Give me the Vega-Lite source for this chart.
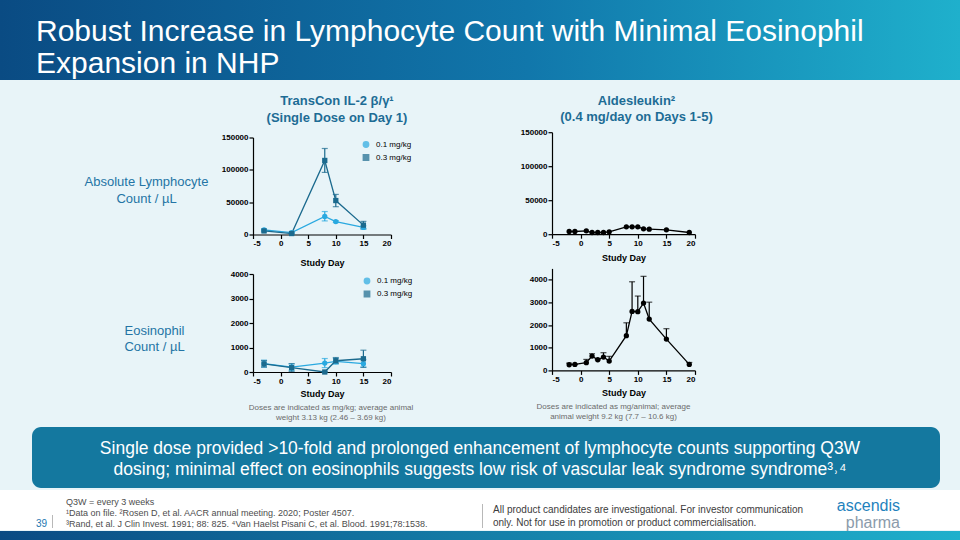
{
  "$schema": "https://vega.github.io/schema/vega-lite/v6.json",
  "background": "#e8f4f8",
  "padding": 0,
  "spacing": 0,
  "config": {
    "view": {"stroke": null},
    "font": "Liberation Sans",
    "axis": {"grid": false, "domainColor": "#000000", "domainWidth": 1.2, "tickColor": "#000000", "tickWidth": 1.2, "tickSize": 4, "labelFont": "Liberation Sans", "labelFontSize": 8, "labelFontWeight": "bold", "labelColor": "#000000", "labelPadding": 1, "titleFont": "Liberation Sans", "titleFontSize": 9, "titleFontWeight": "bold", "titleColor": "#000000"},
    "axisX": {"labelExpr": "replace(datum.label, '−', '-')"},
    "legend": {"labelFont": "Liberation Sans", "labelFontSize": 8, "labelColor": "#000000", "padding": 0, "rowPadding": 1, "labelOffset": 6, "symbolSize": 28},
    "title": {"font": "Liberation Sans"}
  },
  "vconcat": [
    {
      "width": 960, "height": 80,
      "data": {"values": []}, "mark": "point",
      "view": {"fill": {"gradient": "linear", "x1": 0, "y1": 0, "x2": 1, "y2": 0, "stops": [{"offset": 0, "color": "#0a4b83"}, {"offset": 0.55, "color": "#1177ab"}, {"offset": 1, "color": "#1fb0cc"}]}},
      "title": {"text": ["Robust Increase in Lymphocyte Count with Minimal Eosinophil", "Expansion in NHP"], "orient": "bottom", "anchor": "start", "frame": "group", "offset": -63.5, "dx": 36, "fontSize": 30, "fontWeight": "normal", "color": "#ffffff", "lineHeight": 32}
    },
    {
      "spacing": 0,
      "hconcat": [
        {"width": 84, "height": 1, "data": {"values": []}, "mark": "point"},
        {
          "spacing": 2.5,
          "resolve": {"scale": {"color": "independent", "shape": "independent"}, "legend": {"color": "independent", "shape": "independent"}},
          "vconcat": [
            {"width": 1, "height": 11.5, "data": {"values": []}, "mark": "point"},
            {
              "width": 138, "height": 97,
              "title": {"text": ["TransCon IL-2 β/γ¹", "(Single Dose on Day 1)"], "fontSize": 13, "fontWeight": "bold", "color": "#1d6c95", "lineHeight": 16.5, "offset": 9, "dx": 15, "anchor": "middle", "frame": "group"},
              "data": {"values": [
                {"day": -3, "dose": "0.1 mg/kg", "mean": 7000, "lo": 5500, "hi": 8500},
                {"day": 2, "dose": "0.1 mg/kg", "mean": 3000, "lo": 2000, "hi": 4000},
                {"day": 8, "dose": "0.1 mg/kg", "mean": 28000, "lo": 21000, "hi": 35500},
                {"day": 10, "dose": "0.1 mg/kg", "mean": 20000, "lo": 18500, "hi": 21500},
                {"day": 15, "dose": "0.1 mg/kg", "mean": 11000, "lo": 8500, "hi": 13500},
                {"day": -3, "dose": "0.3 mg/kg", "mean": 5500, "lo": 4000, "hi": 7000},
                {"day": 2, "dose": "0.3 mg/kg", "mean": 1500, "lo": 500, "hi": 2500},
                {"day": 8, "dose": "0.3 mg/kg", "mean": 114500, "lo": 96000, "hi": 133000},
                {"day": 10, "dose": "0.3 mg/kg", "mean": 52500, "lo": 43000, "hi": 62000},
                {"day": 15, "dose": "0.3 mg/kg", "mean": 14500, "lo": 8800, "hi": 20300}
              ]},
              "encoding": {
                "x": {"field": "day", "type": "quantitative", "scale": {"domain": [-5, 20], "nice": false}, "axis": {"values": [-5, 0, 5, 10, 15, 20], "title": "Study Day", "titlePadding": 10.5}},
                "color": {"field": "dose", "type": "nominal", "scale": {"domain": ["0.1 mg/kg", "0.3 mg/kg"], "range": ["#2aa9e0", "#1b6a8e"]}, "legend": {"orient": "none", "legendX": 109, "legendY": 3, "title": null}}
              },
              "layer": [
                {"mark": {"type": "rule", "strokeWidth": 1.2}, "encoding": {
                  "y": {"field": "lo", "type": "quantitative", "scale": {"domain": [0, 150000], "nice": false}, "axis": {"values": [0, 50000, 100000, 150000], "format": "d", "title": ["Absolute Lymphocyte", "Count / µL"], "titleAngle": 0, "titleAlign": "center", "titleBaseline": "middle", "titleX": -107, "titleY": 44, "titleFontSize": 13, "titleFontWeight": "normal", "titleColor": "#2474a5", "titleLineHeight": 16.5}},
                  "y2": {"field": "hi"}}},
                {"mark": {"type": "tick", "orient": "horizontal", "size": 6, "thickness": 1.2}, "encoding": {
                  "y": {"field": "lo", "type": "quantitative", "scale": {"domain": [0, 150000], "nice": false}, "axis": {"values": [0, 50000, 100000, 150000], "format": "d", "title": ["Absolute Lymphocyte", "Count / µL"], "titleAngle": 0, "titleAlign": "center", "titleBaseline": "middle", "titleX": -107, "titleY": 44, "titleFontSize": 13, "titleFontWeight": "normal", "titleColor": "#2474a5", "titleLineHeight": 16.5}}}},
                {"mark": {"type": "tick", "orient": "horizontal", "size": 6, "thickness": 1.2}, "encoding": {
                  "y": {"field": "hi", "type": "quantitative", "scale": {"domain": [0, 150000], "nice": false}, "axis": {"values": [0, 50000, 100000, 150000], "format": "d", "title": ["Absolute Lymphocyte", "Count / µL"], "titleAngle": 0, "titleAlign": "center", "titleBaseline": "middle", "titleX": -107, "titleY": 44, "titleFontSize": 13, "titleFontWeight": "normal", "titleColor": "#2474a5", "titleLineHeight": 16.5}}}},
                {"mark": {"type": "line", "strokeWidth": 1.3}, "encoding": {
                  "y": {"field": "mean", "type": "quantitative", "scale": {"domain": [0, 150000], "nice": false}, "axis": {"values": [0, 50000, 100000, 150000], "format": "d", "title": ["Absolute Lymphocyte", "Count / µL"], "titleAngle": 0, "titleAlign": "center", "titleBaseline": "middle", "titleX": -107, "titleY": 44, "titleFontSize": 13, "titleFontWeight": "normal", "titleColor": "#2474a5", "titleLineHeight": 16.5}}}},
                {"mark": {"type": "point", "filled": true, "size": 28, "opacity": 1}, "encoding": {
                  "y": {"field": "mean", "type": "quantitative", "scale": {"domain": [0, 150000], "nice": false}, "axis": {"values": [0, 50000, 100000, 150000], "format": "d", "title": ["Absolute Lymphocyte", "Count / µL"], "titleAngle": 0, "titleAlign": "center", "titleBaseline": "middle", "titleX": -107, "titleY": 44, "titleFontSize": 13, "titleFontWeight": "normal", "titleColor": "#2474a5", "titleLineHeight": 16.5}},
                  "shape": {"field": "dose", "type": "nominal", "scale": {"domain": ["0.1 mg/kg", "0.3 mg/kg"], "range": ["circle", "square"]}, "legend": {"orient": "none", "legendX": 109, "legendY": 3, "title": null}}}}
              ]
            },
            {
              "width": 138, "height": 98,
              "title": {"text": ["Doses are indicated as mg/kg; average animal", "weight 3.13 kg (2.46 – 3.69 kg)"], "orient": "bottom", "offset": 5, "dx": 9, "fontSize": 8, "fontWeight": "normal", "color": "#6b6b6b", "lineHeight": 10.5, "anchor": "middle", "frame": "group"},
              "data": {"values": [
                {"day": -3, "dose": "0.1 mg/kg", "mean": 340, "lo": 200, "hi": 480},
                {"day": 2, "dose": "0.1 mg/kg", "mean": 200, "lo": 70, "hi": 330},
                {"day": 8, "dose": "0.1 mg/kg", "mean": 365, "lo": 180, "hi": 550},
                {"day": 10, "dose": "0.1 mg/kg", "mean": 430, "lo": 320, "hi": 560},
                {"day": 15, "dose": "0.1 mg/kg", "mean": 340, "lo": 200, "hi": 510},
                {"day": -3, "dose": "0.3 mg/kg", "mean": 330, "lo": 200, "hi": 470},
                {"day": 2, "dose": "0.3 mg/kg", "mean": 175, "lo": 20, "hi": 340},
                {"day": 8, "dose": "0.3 mg/kg", "mean": 0, "lo": 0, "hi": 0},
                {"day": 10, "dose": "0.3 mg/kg", "mean": 460, "lo": 350, "hi": 590},
                {"day": 15, "dose": "0.3 mg/kg", "mean": 540, "lo": 190, "hi": 890}
              ]},
              "encoding": {
                "x": {"field": "day", "type": "quantitative", "scale": {"domain": [-5, 20], "nice": false}, "axis": {"values": [-5, 0, 5, 10, 15, 20], "title": "Study Day", "titlePadding": 4.8}},
                "color": {"field": "dose", "type": "nominal", "scale": {"domain": ["0.1 mg/kg", "0.3 mg/kg"], "range": ["#2aa9e0", "#1b6a8e"]}, "legend": {"orient": "none", "legendX": 110, "legendY": 3, "title": null}}
              },
              "layer": [
                {"mark": {"type": "rule", "strokeWidth": 1.2}, "encoding": {
                  "y": {"field": "lo", "type": "quantitative", "scale": {"domain": [0, 4000], "nice": false}, "axis": {"values": [0, 1000, 2000, 3000, 4000], "format": "d", "title": ["Eosinophil", "Count / µL"], "titleAngle": 0, "titleAlign": "center", "titleBaseline": "middle", "titleX": -99, "titleY": 56, "titleFontSize": 13, "titleFontWeight": "normal", "titleColor": "#2474a5", "titleLineHeight": 16.5}},
                  "y2": {"field": "hi"}}},
                {"mark": {"type": "tick", "orient": "horizontal", "size": 6, "thickness": 1.2}, "encoding": {
                  "y": {"field": "lo", "type": "quantitative", "scale": {"domain": [0, 4000], "nice": false}, "axis": {"values": [0, 1000, 2000, 3000, 4000], "format": "d", "title": ["Eosinophil", "Count / µL"], "titleAngle": 0, "titleAlign": "center", "titleBaseline": "middle", "titleX": -99, "titleY": 56, "titleFontSize": 13, "titleFontWeight": "normal", "titleColor": "#2474a5", "titleLineHeight": 16.5}}}},
                {"mark": {"type": "tick", "orient": "horizontal", "size": 6, "thickness": 1.2}, "encoding": {
                  "y": {"field": "hi", "type": "quantitative", "scale": {"domain": [0, 4000], "nice": false}, "axis": {"values": [0, 1000, 2000, 3000, 4000], "format": "d", "title": ["Eosinophil", "Count / µL"], "titleAngle": 0, "titleAlign": "center", "titleBaseline": "middle", "titleX": -99, "titleY": 56, "titleFontSize": 13, "titleFontWeight": "normal", "titleColor": "#2474a5", "titleLineHeight": 16.5}}}},
                {"mark": {"type": "line", "strokeWidth": 1.3}, "encoding": {
                  "y": {"field": "mean", "type": "quantitative", "scale": {"domain": [0, 4000], "nice": false}, "axis": {"values": [0, 1000, 2000, 3000, 4000], "format": "d", "title": ["Eosinophil", "Count / µL"], "titleAngle": 0, "titleAlign": "center", "titleBaseline": "middle", "titleX": -99, "titleY": 56, "titleFontSize": 13, "titleFontWeight": "normal", "titleColor": "#2474a5", "titleLineHeight": 16.5}}}},
                {"mark": {"type": "point", "filled": true, "size": 28, "opacity": 1}, "encoding": {
                  "y": {"field": "mean", "type": "quantitative", "scale": {"domain": [0, 4000], "nice": false}, "axis": {"values": [0, 1000, 2000, 3000, 4000], "format": "d", "title": ["Eosinophil", "Count / µL"], "titleAngle": 0, "titleAlign": "center", "titleBaseline": "middle", "titleX": -99, "titleY": 56, "titleFontSize": 13, "titleFontWeight": "normal", "titleColor": "#2474a5", "titleLineHeight": 16.5}},
                  "shape": {"field": "dose", "type": "nominal", "scale": {"domain": ["0.1 mg/kg", "0.3 mg/kg"], "range": ["circle", "square"]}, "legend": {"orient": "none", "legendX": 110, "legendY": 3, "title": null}}}}
              ]
            }
          ]
        },
        {"width": 106, "height": 1, "data": {"values": []}, "mark": "point"},
        {
          "spacing": 6.2,
          "vconcat": [
            {"width": 1, "height": 7.8, "data": {"values": []}, "mark": "point"},
            {
              "width": 143, "height": 102,
              "title": {"text": ["Aldesleukin²", "(0.4 mg/day on Days 1-5)"], "fontSize": 13, "fontWeight": "bold", "color": "#1d6c95", "lineHeight": 16.5, "offset": 4.2, "dx": 13, "anchor": "middle", "frame": "group"},
              "data": {"values": [
                {"day": -2, "mean": 4000}, {"day": -1, "mean": 4000}, {"day": 1, "mean": 5000},
                {"day": 2, "mean": 2500}, {"day": 3, "mean": 2500}, {"day": 4, "mean": 2500},
                {"day": 5, "mean": 3500}, {"day": 8, "mean": 10900}, {"day": 9, "mean": 10900},
                {"day": 10, "mean": 10900}, {"day": 11, "mean": 7900}, {"day": 12, "mean": 7400},
                {"day": 15, "mean": 6400}, {"day": 19, "mean": 2500}
              ]},
              "encoding": {
                "x": {"field": "day", "type": "quantitative", "scale": {"domain": [-5, 20], "nice": false}, "axis": {"values": [-5, 0, 5, 10, 15, 20], "title": "Study Day", "titlePadding": 5.8}},
                "y": {"field": "mean", "type": "quantitative", "scale": {"domain": [0, 150000], "nice": false}, "axis": {"values": [0, 50000, 100000, 150000], "format": "d", "title": null}}
              },
              "layer": [
                {"mark": {"type": "line", "strokeWidth": 1.3, "color": "#000000"}},
                {"mark": {"type": "point", "filled": true, "size": 28, "opacity": 1, "color": "#000000", "shape": "circle"}}
              ]
            },
            {
              "width": 143, "height": 102,
              "title": {"text": ["Doses are indicated as mg/animal; average", "animal weight 9.2 kg (7.7 – 10.6 kg)"], "orient": "bottom", "offset": 4.6, "dx": -10, "fontSize": 8, "fontWeight": "normal", "color": "#6b6b6b", "lineHeight": 10.5, "anchor": "middle", "frame": "group"},
              "data": {"values": [
                {"day": -2, "mean": 250, "hi": 320}, {"day": -1, "mean": 265, "hi": 265},
                {"day": 1, "mean": 340, "hi": 485}, {"day": 2, "mean": 630, "hi": 735},
                {"day": 3, "mean": 470, "hi": 470}, {"day": 4, "mean": 590, "hi": 780},
                {"day": 5, "mean": 410, "hi": 620}, {"day": 8, "mean": 1530, "hi": 2100},
                {"day": 9, "mean": 2600, "hi": 3910}, {"day": 10, "mean": 2590, "hi": 3280},
                {"day": 11, "mean": 2970, "hi": 4150}, {"day": 12, "mean": 2265, "hi": 3010},
                {"day": 15, "mean": 1380, "hi": 1840}, {"day": 19, "mean": 265, "hi": 350}
              ]},
              "encoding": {
                "x": {"field": "day", "type": "quantitative", "scale": {"domain": [-5, 20], "nice": false}, "axis": {"values": [-5, 0, 5, 10, 15, 20], "title": "Study Day", "titlePadding": 5.5}},
                "y": {"field": "mean", "type": "quantitative", "scale": {"domain": [0, 4500], "nice": false}, "axis": {"values": [0, 1000, 2000, 3000, 4000], "format": "d", "title": null}}
              },
              "layer": [
                {"mark": {"type": "rule", "strokeWidth": 1.2, "color": "#000000"}, "encoding": {"y2": {"field": "hi"}}},
                {"mark": {"type": "tick", "orient": "horizontal", "size": 6, "thickness": 1.2, "color": "#000000"}, "encoding": {"y": {"field": "hi", "type": "quantitative", "scale": {"domain": [0, 4500], "nice": false}, "axis": {"values": [0, 1000, 2000, 3000, 4000], "format": "d", "title": null}}}},
                {"mark": {"type": "line", "strokeWidth": 1.3, "color": "#000000"}},
                {"mark": {"type": "point", "filled": true, "size": 28, "opacity": 1, "color": "#000000", "shape": "circle"}}
              ]
            }
          ]
        }
      ]
    },
    {"width": 1, "height": 4, "data": {"values": []}, "mark": "point"},
    {
      "spacing": 0,
      "hconcat": [
        {"width": 32, "height": 1, "data": {"values": []}, "mark": "point"},
        {
          "width": 908, "height": 61,
          "data": {"values": []}, "mark": "point",
          "view": {"fill": "#14789f", "cornerRadius": 9},
          "title": {"text": ["Single dose provided >10-fold and prolonged enhancement of lymphocyte counts supporting Q3W", "dosing; minimal effect on eosinophils suggests low risk of vascular leak syndrome syndrome³˒⁴"], "orient": "bottom", "anchor": "middle", "frame": "group", "offset": -48.5, "dx": -6, "fontSize": 17.5, "fontWeight": "normal", "color": "#ffffff", "lineHeight": 21}
        }
      ]
    },
    {"width": 1, "height": 2, "data": {"values": []}, "mark": "point"},
    {
      "spacing": 0,
      "hconcat": [
        {
          "width": 52, "height": 40, "data": {"values": []}, "mark": "point",
          "view": {"fill": "#ffffff"},
          "title": {"text": "39", "orient": "bottom", "anchor": "end", "frame": "group", "offset": -11.3, "dx": -5, "fontSize": 10, "fontWeight": "normal", "color": "#2377b0"}
        },
        {
          "spacing": 0,
          "vconcat": [
            {"width": 1, "height": 25, "data": {"values": []}, "mark": "point", "view": {"fill": "#ffffff"}},
            {"width": 1, "height": 13, "data": {"values": []}, "mark": "point", "view": {"fill": "#b8b8b8"}},
            {"width": 1, "height": 2, "data": {"values": []}, "mark": "point", "view": {"fill": "#ffffff"}}
          ]
        },
        {
          "width": 429, "height": 40, "data": {"values": []}, "mark": "point",
          "view": {"fill": "#ffffff"},
          "title": {"text": ["Q3W = every 3 weeks", "¹Data on file. ²Rosen D, et al. AACR annual meeting. 2020; Poster 4507.", "³Rand, et al. J Clin Invest. 1991; 88: 825. ⁴Van Haelst Pisani C, et al. Blood. 1991;78:1538."], "orient": "bottom", "anchor": "start", "frame": "group", "offset": -31.9, "dx": 13, "fontSize": 9, "fontWeight": "normal", "color": "#4d4d4d", "lineHeight": 11}
        },
        {
          "spacing": 0,
          "vconcat": [
            {"width": 1, "height": 14, "data": {"values": []}, "mark": "point", "view": {"fill": "#ffffff"}},
            {"width": 1, "height": 24, "data": {"values": []}, "mark": "point", "view": {"fill": "#b8b8b8"}},
            {"width": 1, "height": 2, "data": {"values": []}, "mark": "point", "view": {"fill": "#ffffff"}}
          ]
        },
        {
          "width": 339, "height": 40, "data": {"values": []}, "mark": "point",
          "view": {"fill": "#ffffff"},
          "title": {"text": ["All product candidates are investigational. For investor communication", "only. Not for use in promotion or product commercialisation."], "orient": "bottom", "anchor": "start", "frame": "group", "offset": -25.3, "dx": 10, "fontSize": 10, "fontWeight": "normal", "color": "#3c3c3c", "lineHeight": 13}
        },
        {
          "width": 138, "height": 40, "data": {"values": []}, "mark": "point",
          "view": {"fill": "#ffffff"},
          "title": {"text": "ascendis", "subtitle": "pharma", "orient": "bottom", "anchor": "end", "frame": "group", "offset": -32, "dx": -60, "fontSize": 16, "fontWeight": "normal", "color": "#1f82bd", "subtitleFontSize": 16, "subtitleColor": "#8b9bab", "subtitleFont": "Liberation Sans", "subtitlePadding": 1}
        }
      ]
    },
    {
      "width": 960, "height": 10, "data": {"values": []}, "mark": "point",
      "view": {"fill": {"gradient": "linear", "x1": 0, "y1": 0, "x2": 1, "y2": 0, "stops": [{"offset": 0, "color": "#0a4b83"}, {"offset": 1, "color": "#1fb0cc"}]}}
    }
  ]
}
